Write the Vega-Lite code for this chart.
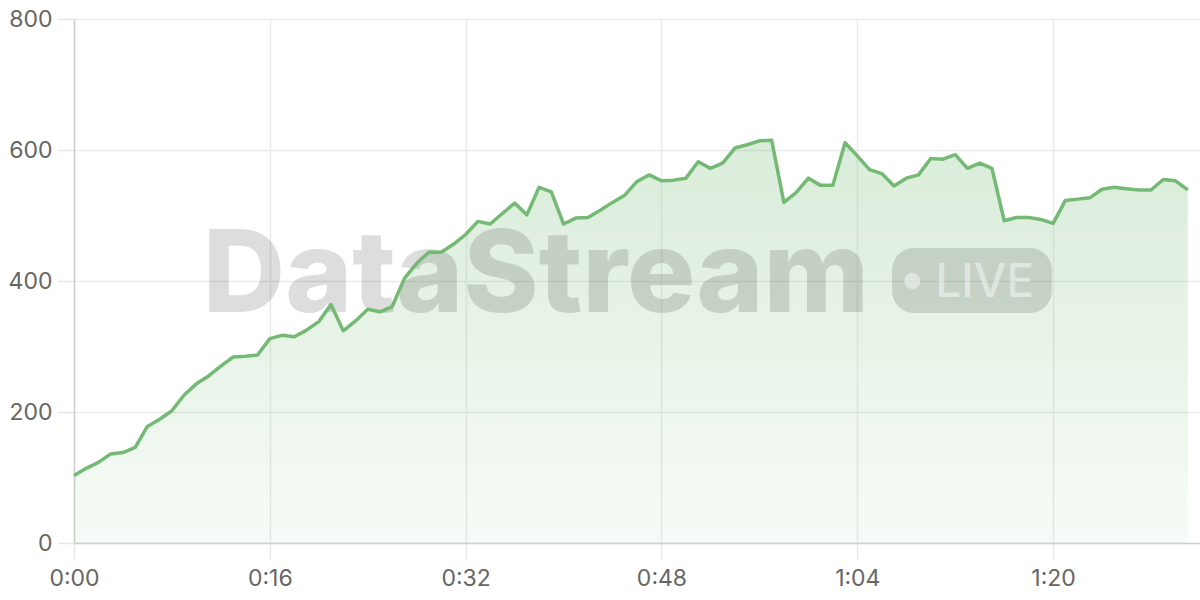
{
  "$schema": "https://vega.github.io/schema/vega-lite/v6.json",
  "width": 1126,
  "height": 524,
  "autosize": {"type": "none"},
  "padding": {"left": 74, "top": 19, "right": 0, "bottom": 57},
  "background": "white",
  "config": {
    "view": {"stroke": null},
    "font": "Inter",
    "axis": {
      "labelFont": "Inter",
      "labelFontSize": 23,
      "labelColor": "#666666",
      "gridColor": "#ebebeb",
      "gridWidth": 1.5,
      "tickColor": "#e6e6e6",
      "tickWidth": 1.5,
      "tickSize": 16,
      "domainColor": "#cfcfcf",
      "domainWidth": 1.5,
      "title": null
    }
  },
  "datasets": {
    "series": [
      {"t": 0, "v": 103}, {"t": 1, "v": 114}, {"t": 2, "v": 123}, {"t": 3, "v": 136}, {"t": 4, "v": 138},
      {"t": 5, "v": 146}, {"t": 6, "v": 178}, {"t": 7, "v": 189}, {"t": 8, "v": 202}, {"t": 9, "v": 226},
      {"t": 10, "v": 243}, {"t": 11, "v": 255}, {"t": 12, "v": 270}, {"t": 13, "v": 284}, {"t": 14, "v": 285},
      {"t": 15, "v": 287}, {"t": 16, "v": 312}, {"t": 17, "v": 317}, {"t": 18, "v": 315}, {"t": 19, "v": 325},
      {"t": 20, "v": 338}, {"t": 21, "v": 364}, {"t": 22, "v": 324}, {"t": 23, "v": 339}, {"t": 24, "v": 357},
      {"t": 25, "v": 353}, {"t": 26, "v": 361}, {"t": 27, "v": 404}, {"t": 28, "v": 427}, {"t": 29, "v": 444},
      {"t": 30, "v": 444}, {"t": 31, "v": 456}, {"t": 32, "v": 471}, {"t": 33, "v": 491}, {"t": 34, "v": 487},
      {"t": 35, "v": 503}, {"t": 36, "v": 519}, {"t": 37, "v": 501}, {"t": 38, "v": 543}, {"t": 39, "v": 536},
      {"t": 40, "v": 487}, {"t": 41, "v": 496}, {"t": 42, "v": 497}, {"t": 43, "v": 508}, {"t": 44, "v": 520},
      {"t": 45, "v": 531}, {"t": 46, "v": 552}, {"t": 47, "v": 562}, {"t": 48, "v": 553}, {"t": 49, "v": 554},
      {"t": 50, "v": 557}, {"t": 51, "v": 582}, {"t": 52, "v": 572}, {"t": 53, "v": 580}, {"t": 54, "v": 603},
      {"t": 55, "v": 608}, {"t": 56, "v": 614}, {"t": 57, "v": 615}, {"t": 58, "v": 520}, {"t": 59, "v": 535},
      {"t": 60, "v": 557}, {"t": 61, "v": 546}, {"t": 62, "v": 546}, {"t": 63, "v": 611}, {"t": 64, "v": 591},
      {"t": 65, "v": 570}, {"t": 66, "v": 564}, {"t": 67, "v": 545}, {"t": 68, "v": 557}, {"t": 69, "v": 562},
      {"t": 70, "v": 587}, {"t": 71, "v": 586}, {"t": 72, "v": 593}, {"t": 73, "v": 572}, {"t": 74, "v": 580},
      {"t": 75, "v": 572}, {"t": 76, "v": 492}, {"t": 77, "v": 497}, {"t": 78, "v": 497}, {"t": 79, "v": 494},
      {"t": 80, "v": 488}, {"t": 81, "v": 523}, {"t": 82, "v": 525}, {"t": 83, "v": 527}, {"t": 84, "v": 540},
      {"t": 85, "v": 543}, {"t": 86, "v": 541}, {"t": 87, "v": 539}, {"t": 88, "v": 539}, {"t": 89, "v": 555},
      {"t": 90, "v": 553}, {"t": 91, "v": 539}
    ]
  },
  "layer": [
    {
      "data": {"name": "series"},
      "mark": {
        "type": "area",
        "interpolate": "linear",
        "color": {
          "gradient": "linear",
          "x1": 0, "y1": 0, "x2": 0, "y2": 1,
          "stops": [
            {"offset": 0, "color": "rgba(116,185,116,0.27)"},
            {"offset": 1, "color": "rgba(116,185,116,0.06)"}
          ]
        }
      },
      "encoding": {
        "x": {
          "field": "t", "type": "quantitative",
          "scale": {"domain": [0, 92], "nice": false, "zero": false},
          "axis": {
            "values": [0, 16, 32, 48, 64, 80],
            "labelExpr": "floor(datum.value/60) + ':' + (datum.value % 60 < 10 ? '0' : '') + (datum.value % 60)",
            "labelPadding": 8,
            "labelFlush": false
          }
        },
        "y": {
          "field": "v", "type": "quantitative",
          "scale": {"domain": [0, 800], "nice": false},
          "axis": {"values": [0, 200, 400, 600, 800], "labelPadding": 6}
        }
      }
    },
    {
      "data": {"values": [{"label": "DataStream"}]},
      "mark": {"type": "text", "font": "Inter", "fontWeight": 800, "fontSize": 114, "align": "center", "baseline": "alphabetic", "color": "black", "opacity": 0.13},
      "encoding": {
        "x": {"datum": 37.75, "type": "quantitative"},
        "y": {"datum": 352.7, "type": "quantitative"},
        "text": {"field": "label"}
      }
    },
    {
      "data": {"values": [{"label": "badge"}]},
      "mark": {"type": "rect", "color": "black", "opacity": 0.13, "cornerRadius": 22},
      "encoding": {
        "x": {"datum": 66.84, "type": "quantitative"},
        "x2": {"datum": 79.9},
        "y": {"datum": 450.4, "type": "quantitative"},
        "y2": {"datum": 351.1}
      }
    },
    {
      "data": {"values": [{"label": "dot"}]},
      "mark": {"type": "point", "shape": "circle", "filled": true, "color": "white", "opacity": 0.45, "size": 260},
      "encoding": {
        "x": {"datum": 68.5, "type": "quantitative"},
        "y": {"datum": 400, "type": "quantitative"}
      }
    },
    {
      "data": {"values": [{"label": "LIVE"}]},
      "mark": {"type": "text", "font": "Inter", "fontWeight": 500, "fontSize": 46, "align": "center", "baseline": "alphabetic", "color": "white", "opacity": 0.45},
      "encoding": {
        "x": {"datum": 74.4, "type": "quantitative"},
        "y": {"datum": 375.6, "type": "quantitative"},
        "text": {"field": "label"}
      }
    },
    {
      "data": {"name": "series"},
      "mark": {"type": "line", "color": "#74b974", "strokeWidth": 3.5, "strokeJoin": "round"},
      "encoding": {
        "x": {"field": "t", "type": "quantitative"},
        "y": {"field": "v", "type": "quantitative"}
      }
    }
  ]
}
